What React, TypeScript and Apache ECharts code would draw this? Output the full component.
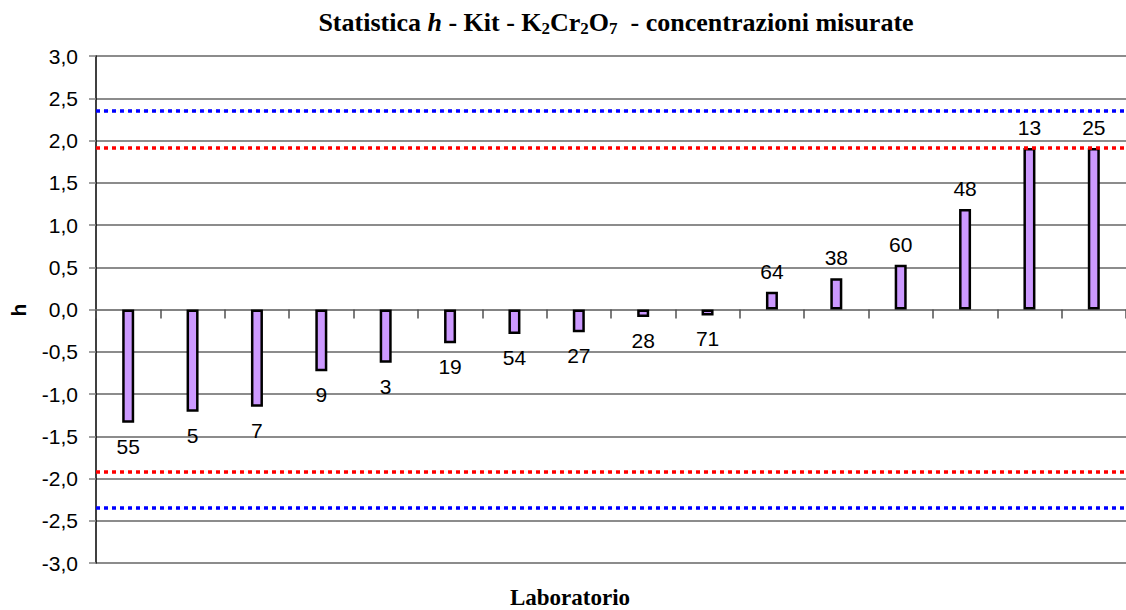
import React, { useEffect, useRef } from "react";
import * as echarts from "echarts";

const labs = ["55", "5", "7", "9", "3", "19", "54", "27", "28", "71", "64", "38", "60", "48", "13", "25"];
const hValues = [-1.34, -1.21, -1.15, -0.73, -0.63, -0.4, -0.29, -0.27, -0.09, -0.07, 0.21, 0.37, 0.53, 1.19, 1.91, 1.91];
const redLimits = [1.92, -1.92];
const blueLimits = [2.35, -2.35];
const yTicks = { min: -3, max: 3, interval: 0.5 };

export default function App() {
  const ref = useRef<HTMLDivElement>(null);
  useEffect(() => {
    if (!ref.current) return;
    document.body.style.margin = "0";
    const chart = echarts.init(ref.current, undefined, { renderer: "svg" });
    const data = hValues.map((v, i) => ({
      value: v,
      label: {
        show: true,
        position: v >= 0 ? "top" : "bottom",
        distance: v >= 0 ? 10 : 13,
        formatter: labs[i],
      },
    }));
    const markData: any[] = [];
    redLimits.forEach((v) =>
      markData.push({ yAxis: v, lineStyle: { color: "#ff0000", type: [4, 4], width: 3.5 } })
    );
    blueLimits.forEach((v) =>
      markData.push({ yAxis: v, lineStyle: { color: "#0000ff", type: [4, 4], width: 3.5 } })
    );
    chart.setOption({
      animation: false,
      backgroundColor: "#ffffff",
      grid: { left: 96, top: 56, bottom: 47, right: -4, containLabel: false },
      graphic: [
        {
          type: "text",
          x: 616,
          y: 22,
          style: {
            text:
              "{b|Statistica }{i|h}{b| - Kit - K}{s|2}{b|Cr}{s|2}{b|O}{s|7}{b|  - concentrazioni misurate}",
            align: "center",
            verticalAlign: "middle",
            rich: {
              b: { fontFamily: "Liberation Serif", fontWeight: "bold", fontSize: 26, lineHeight: 28, fill: "#000" },
              i: { fontFamily: "Liberation Serif", fontWeight: "bold", fontStyle: "italic", fontSize: 26, lineHeight: 28, fill: "#000" },
              s: { fontFamily: "Liberation Serif", fontWeight: "bold", fontSize: 17, lineHeight: 18, padding: [12, 0, 0, 0], verticalAlign: "top", fill: "#000" },
            },
          },
        },
        {
          type: "text",
          x: 570,
          y: 597,
          style: {
            text: "Laboratorio",
            align: "center",
            verticalAlign: "middle",
            fontFamily: "Liberation Serif",
            fontWeight: "bold",
            fontSize: 23,
            fill: "#000",
          },
        },
        {
          type: "text",
          x: 18,
          y: 310,
          rotation: Math.PI / 2,
          style: {
            text: "h",
            align: "center",
            verticalAlign: "middle",
            fontFamily: "Liberation Sans",
            fontWeight: "bold",
            fontSize: 21,
            fill: "#000",
          },
        },
      ],
      xAxis: {
        type: "category",
        data: labs,
        axisLine: { show: true, onZero: true, lineStyle: { color: "#808080", width: 1.5 } },
        axisTick: { show: true, length: 9, lineStyle: { color: "#505050", width: 1.5 } },
        axisLabel: { show: false },
        splitLine: { show: false },
      },
      yAxis: {
        type: "value",
        min: yTicks.min,
        max: yTicks.max,
        interval: yTicks.interval,
        axisLine: { show: true, lineStyle: { color: "#000", width: 1.5 } },
        axisTick: { show: true, length: 7, lineStyle: { color: "#808080", width: 1.5 } },
        axisLabel: {
          margin: 18,
          fontFamily: "Liberation Sans",
          fontSize: 21,
          color: "#000",
          formatter: (v: number) => v.toFixed(1).replace(".", ","),
        },
        splitLine: { show: true, lineStyle: { color: "#666666", width: 1.5 } },
      },
      series: [
        {
          type: "bar",
          data,
          barWidth: 12,
          itemStyle: { color: "#cc99ff", borderColor: "#000", borderWidth: 2.5 },
          label: { fontFamily: "Liberation Sans", fontSize: 21, color: "#000" },
          markLine: {
            silent: true,
            symbol: "none",
            label: { show: false },
            data: markData,
          },
        },
      ],
    });
    return () => chart.dispose();
  }, []);
  return <div ref={ref} style={{ position: "fixed", left: 0, top: 0, width: 1126, height: 610 }} />;
}
